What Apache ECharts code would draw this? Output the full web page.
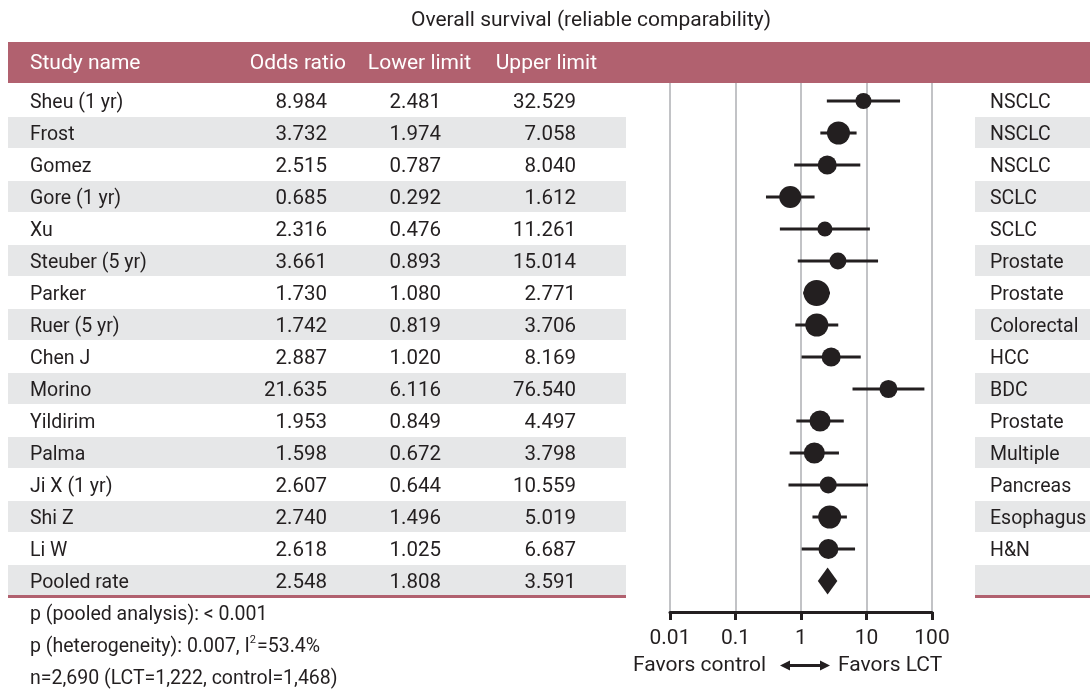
<!DOCTYPE html>
<html>
<head>
<meta charset="utf-8">
<script src="https://cdn.jsdelivr.net/npm/echarts@6/dist/echarts.min.js"></script>
<style>
  html, body { margin: 0; padding: 0; background: #ffffff; }
  #chart { width: 1090px; height: 692px; }
</style>
</head>
<body>
<div id="chart"></div>
<script>
// Study-level odds ratios with 95% limits (LCT vs control)
const studies = ['Sheu (1 yr)', 'Frost', 'Gomez', 'Gore (1 yr)', 'Xu', 'Steuber (5 yr)', 'Parker',
  'Ruer (5 yr)', 'Chen J', 'Morino', 'Yildirim', 'Palma', 'Ji X (1 yr)', 'Shi Z', 'Li W'];
const oddsRatio = [8.984, 3.732, 2.515, 0.685, 2.316, 3.661, 1.730, 1.742, 2.887, 21.635, 1.953, 1.598, 2.607, 2.740, 2.618];
const lowerLimit = [2.481, 1.974, 0.787, 0.292, 0.476, 0.893, 1.080, 0.819, 1.020, 6.116, 0.849, 0.672, 0.644, 1.496, 1.025];
const upperLimit = [32.529, 7.058, 8.040, 1.612, 11.261, 15.014, 2.771, 3.706, 8.169, 76.540, 4.497, 3.798, 10.559, 5.019, 6.687];
const cancerType = ['NSCLC', 'NSCLC', 'NSCLC', 'SCLC', 'SCLC', 'Prostate', 'Prostate', 'Colorectal', 'HCC', 'BDC',
  'Prostate', 'Multiple', 'Pancreas', 'Esophagus', 'H&N'];
// relative study weights (%), shown as marker area
const relWeight = [4.2, 8.6, 5.9, 7.9, 3.7, 4.7, 11.0, 8.6, 5.9, 5.3, 7.2, 7.2, 4.7, 8.6, 6.5];

// Pooled estimate
const pooledName = 'Pooled rate';
const pooledOR = 2.548;
const pooledLower = 1.808;
const pooledUpper = 3.591;

// x-axis ticks (odds ratio, log scale)
const xTicks = [0.01, 0.1, 1, 10, 100];

const footnotes = ['p (pooled analysis): < 0.001', 'p (heterogeneity): 0.007, I{sup|2}=53.4%', 'n=2,690 (LCT=1,222, control=1,468)'];
const headers = ['Study name', 'Odds ratio', 'Lower limit', 'Upper limit'];

const FONT_FAMILY = 'Roboto, "Liberation Sans", sans-serif';
const FS = 21;        // title, header, axis
const FS_NAME = 19.5; // row labels
const FS_NUM = 20.5;  // row numbers
const FS_NOTE = 19.5; // footnotes
const TEXT_DY = 2;    // optical centring of text against rows
const INK = '#231f20';
const ROSE = '#b1616f';
const STRIPE = '#e6e7e8';
const GRIDLINE = '#c2c3c6';

// table columns built from the named arrays (pooled row last)
const tNames = studies.concat([pooledName]);
const tOR = oddsRatio.concat([pooledOR]);
const tLow = lowerLimit.concat([pooledLower]);
const tUp = upperLimit.concat([pooledUpper]);
const tType = cancerType.concat(['']);
const nRows = tNames.length;

const maxW = Math.max.apply(null, relWeight);
const markerSize = w => 26 * Math.sqrt(w / maxW);

const chart = echarts.init(document.getElementById('chart'), null, { renderer: 'canvas' });

function txt(text, x, y, align, fill, size) {
  return {
    type: 'text',
    style: {
      text: text, x: x, y: y + TEXT_DY, align: align || 'left', verticalAlign: 'middle',
      fill: fill || INK, fontSize: size || FS, fontFamily: FONT_FAMILY
    }
  };
}

const option = {
  backgroundColor: '#ffffff',
  animation: false,
  grid: { left: 670, right: 158, top: 83, bottom: 80, containLabel: false },
  xAxis: {
    type: 'log',
    logBase: 10,
    position: 'bottom',
    min: xTicks[0],
    max: xTicks[xTicks.length - 1],
    axisLine: { show: true, onZero: false, lineStyle: { color: INK, width: 3 } },
    axisTick: { show: true, length: 8, lineStyle: { color: INK, width: 3 } },
    minorTick: { show: false },
    axisLabel: {
      color: INK, fontSize: FS, fontFamily: FONT_FAMILY, margin: 16,
      formatter: v => String(+v.toPrecision(6))
    },
    splitLine: { show: true, lineStyle: { color: GRIDLINE, width: 2 } }
  },
  yAxis: {
    type: 'value',
    inverse: true,
    min: -0.5625,
    max: nRows - 0.03125,
    show: false
  },
  series: [
    {
      // table rows: stripes and text, positioned on the shared row scale
      type: 'custom',
      clip: false,
      silent: true,
      z: 1,
      data: tNames.map((n, i) => [1, i]),
      encode: { x: 0, y: 1 },
      renderItem: function (params, api) {
        const i = api.value(1);
        const yc = api.coord([1, i])[1];
        const yTop = api.coord([1, i - 0.5])[1];
        const yBot = api.coord([1, i + 0.5])[1];
        const children = [];
        if (i % 2 === 1) {
          children.push({ type: 'rect', shape: { x: 8, y: yTop, width: 618, height: yBot - yTop - 1 }, style: { fill: STRIPE } });
          children.push({ type: 'rect', shape: { x: 975, y: yTop, width: 115, height: yBot - yTop - 1 }, style: { fill: STRIPE } });
        }
        if (i === nRows - 1) {
          children.push({ type: 'rect', shape: { x: 8, y: yBot - 2, width: 618, height: 3 }, style: { fill: ROSE } });
          children.push({ type: 'rect', shape: { x: 975, y: yBot - 2, width: 115, height: 3 }, style: { fill: ROSE } });
        }
        const k = params.dataIndex;
        children.push(txt(tNames[k], 30, yc, 'left', INK, FS_NAME));
        children.push(txt(tOR[k].toFixed(3), 327, yc, 'right', INK, FS_NUM));
        children.push(txt(tLow[k].toFixed(3), 441, yc, 'right', INK, FS_NUM));
        children.push(txt(tUp[k].toFixed(3), 576, yc, 'right', INK, FS_NUM));
        if (tType[k]) children.push(txt(tType[k], 990, yc, 'left', INK, FS_NAME));
        return { type: 'group', children: children };
      }
    },
    {
      // confidence interval whiskers
      type: 'custom',
      z: 3,
      data: studies.map((s, i) => [lowerLimit[i], upperLimit[i], i]),
      encode: { x: [0, 1], y: 2 },
      renderItem: function (params, api) {
        const p1 = api.coord([api.value(0), api.value(2)]);
        const p2 = api.coord([api.value(1), api.value(2)]);
        return {
          type: 'line',
          shape: { x1: p1[0], y1: p1[1], x2: p2[0], y2: p2[1] },
          style: { stroke: INK, lineWidth: 3 }
        };
      }
    },
    {
      // point estimates, area by study weight
      type: 'scatter',
      z: 4,
      symbol: 'circle',
      data: oddsRatio.map((v, i) => [v, i]),
      symbolSize: (val, p) => markerSize(relWeight[p.dataIndex]),
      itemStyle: { color: INK, opacity: 1 },
      emphasis: { disabled: true }
    },
    {
      // pooled estimate diamond
      type: 'custom',
      z: 4,
      data: [[pooledLower, pooledOR, pooledUpper, nRows - 1]],
      encode: { x: [0, 1, 2], y: 3 },
      renderItem: function (params, api) {
        const r = api.value(3);
        const pl = api.coord([api.value(0), r]);
        const pc = api.coord([api.value(1), r]);
        const pu = api.coord([api.value(2), r]);
        const h = api.size([0, 1])[1] * 0.42;
        return {
          type: 'polygon',
          shape: { points: [[pl[0], pl[1]], [pc[0], pc[1] - h], [pu[0], pu[1]], [pc[0], pc[1] + h]] },
          style: { fill: INK }
        };
      }
    }
  ],
  graphic: [
    txt('Overall survival (reliable comparability)', 591, 19, 'center'),
    { type: 'rect', shape: { x: 8, y: 42, width: 1082, height: 41 }, style: { fill: ROSE }, z: 0 },
    txt(headers[0], 30, 62, 'left', '#ffffff'),
    txt(headers[1], 346, 62, 'right', '#ffffff'),
    txt(headers[2], 471, 62, 'right', '#ffffff'),
    txt(headers[3], 597, 62, 'right', '#ffffff'),
    txt(footnotes[0], 30, 613, 'left', INK, FS_NOTE),
    {
      type: 'text',
      style: {
        text: footnotes[1], x: 30, y: 645 + TEXT_DY, align: 'left', verticalAlign: 'middle',
        fill: INK, fontSize: FS_NOTE, fontFamily: FONT_FAMILY, lineHeight: 24,
        rich: { sup: { fontSize: 11, fontFamily: FONT_FAMILY, fill: INK, verticalAlign: 'top', lineHeight: 24, padding: [0, 1, 8, 0] } }
      }
    },
    txt(footnotes[2], 30, 677, 'left', INK, FS_NOTE),
    txt('Favors control', 766, 664, 'right'),
    txt('Favors LCT', 838, 664, 'left'),
    { type: 'line', shape: { x1: 788, y1: 665.5, x2: 822, y2: 665.5 }, style: { stroke: INK, lineWidth: 3 } },
    { type: 'polygon', shape: { points: [[780, 665.5], [790, 660.5], [790, 670.5]] }, style: { fill: INK } },
    { type: 'polygon', shape: { points: [[830, 665.5], [820, 660.5], [820, 670.5]] }, style: { fill: INK } }
  ]
};

chart.setOption(option);
</script>
</body>
</html>
